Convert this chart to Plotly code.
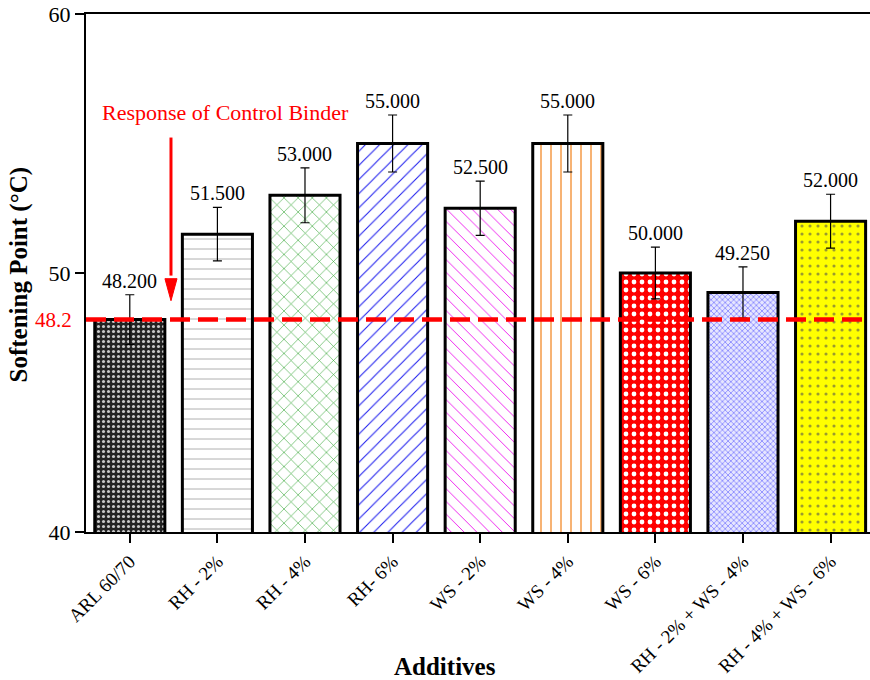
import plotly.graph_objects as go

# Softening point of binders with rice-husk (RH) and wood-shaving (WS) additives
categories = ["ARL 60/70", "RH - 2%", "RH - 4%", "RH- 6%", "WS - 2%", "WS - 4%",
              "WS - 6%", "RH - 2% + WS - 4%", "RH - 4% + WS - 6%"]
softening = [48.2, 51.5, 53.0, 55.0, 52.5, 55.0, 50.0, 49.25, 52.0]
errors = [0.96, 1.03, 1.06, 1.10, 1.05, 1.10, 1.00, 0.99, 1.04]
control_value = 48.2
y_ticks = [40, 50, 60]

# per-bar fill styling
bar_bg = ["#222222", "#ffffff", "#ffffff", "#ffffff", "#ffffff", "#ffffff",
          "#ff0000", "#e6e6ff", "#ffff00"]
pat_shape = [".", "-", "x", "/", "\\", "|", ".", "x", "."]
pat_fg = ["#c8c8c8", "#9a9a9a", "#3aa83a", "#1a1aee", "#ee11ee", "#f59a45",
          "#ffffff", "#3a3aff", "#9a9a30"]
pat_size = [5, 10, 10, 10, 9, 10, 8, 4, 8]
pat_solidity = [0.3, 0.08, 0.12, 0.1, 0.1, 0.15, 0.28, 0.22, 0.12]

SERIF = "Liberation Serif, Times New Roman, serif"

fig = go.Figure()
for i, cat in enumerate(categories):
    fig.add_trace(go.Bar(
        x=[cat],
        y=[softening[i]],
        width=0.8,
        marker=dict(
            color=bar_bg[i],
            line=dict(color="black", width=3),
            pattern=dict(shape=pat_shape[i], fgcolor=pat_fg[i], bgcolor=bar_bg[i],
                         fgopacity=1, size=pat_size[i], solidity=pat_solidity[i],
                         fillmode="overlay"),
        ),
        error_y=dict(type="data", array=[errors[i]], visible=True,
                     color="black", thickness=1.2, width=4.5),
        showlegend=False,
    ))

annotations = []
# value labels above the error bars
for cat, v, e in zip(categories, softening, errors):
    annotations.append(dict(
        x=cat, y=v + e, xref="x", yref="y", text=f"{v:.3f}",
        showarrow=False, yanchor="bottom", yshift=1,
        font=dict(family=SERIF, size=20, color="black"),
    ))

# control binder reference label
annotations.append(dict(
    x=-0.0153, xref="paper", y=control_value, yref="y", text=f"{control_value:g}",
    showarrow=False, xanchor="right", yanchor="middle",
    font=dict(family=SERIF, size=21, color="red"),
))
annotations.append(dict(
    x=0.0179, xref="paper", y=56.2, yref="y", text="Response of Control Binder",
    showarrow=False, xanchor="left", yanchor="middle",
    font=dict(family=SERIF, size=22, color="red"),
))

# axis titles
annotations.append(dict(
    x=-0.0855, xref="paper", y=0.497, yref="paper", text="<b>Softening Point (°C)</b>",
    showarrow=False, textangle=-90, xanchor="center", yanchor="middle",
    font=dict(family=SERIF, size=25, color="black"),
))
annotations.append(dict(
    x=0.458, xref="paper", y=-0.259, yref="paper", text="<b>Additives</b>",
    showarrow=False, xanchor="center", yanchor="middle",
    font=dict(family=SERIF, size=25, color="black"),
))

arrow_x = 0.1084
half_head = 0.0077
shapes = [
    # control binder line
    dict(type="line", xref="paper", x0=0, x1=1, yref="y",
         y0=control_value, y1=control_value,
         line=dict(color="red", width=4.5, dash="20px,8px"), layer="above"),
    # pointer arrow shaft
    dict(type="line", xref="paper", x0=arrow_x, x1=arrow_x, yref="y",
         y0=55.23, y1=49.9, line=dict(color="red", width=3), layer="above"),
    # pointer arrow head
    dict(type="path", xref="paper", yref="y",
         path=(f"M {arrow_x - half_head},49.78 L {arrow_x + half_head},49.78 "
               f"L {arrow_x},48.93 Z"),
         fillcolor="red", line=dict(color="red", width=1), layer="above"),
]

fig.update_layout(
    width=870, height=680,
    margin=dict(l=86, r=0, t=14, b=148),
    paper_bgcolor="white", plot_bgcolor="white",
    font=dict(family=SERIF, color="black"),
    annotations=annotations,
    shapes=shapes,
    barmode="overlay",
)
fig.update_xaxes(
    type="category", range=[-0.5, 8.45], automargin=False,
    showline=True, linecolor="black", linewidth=2, mirror=True,
    ticks="outside", ticklen=9, tickwidth=2, tickcolor="black",
    tickangle=-45, tickfont=dict(family=SERIF, size=19, color="black"),
    showgrid=False, zeroline=False,
)
fig.update_yaxes(
    range=[40, 60], tickvals=y_ticks, automargin=False,
    showline=True, linecolor="black", linewidth=2, mirror=False,
    ticks="outside", ticklen=9, tickwidth=2, tickcolor="black",
    tickfont=dict(family=SERIF, size=22, color="black"),
    showgrid=False, zeroline=False,
)

fig.write_html("out.html")
